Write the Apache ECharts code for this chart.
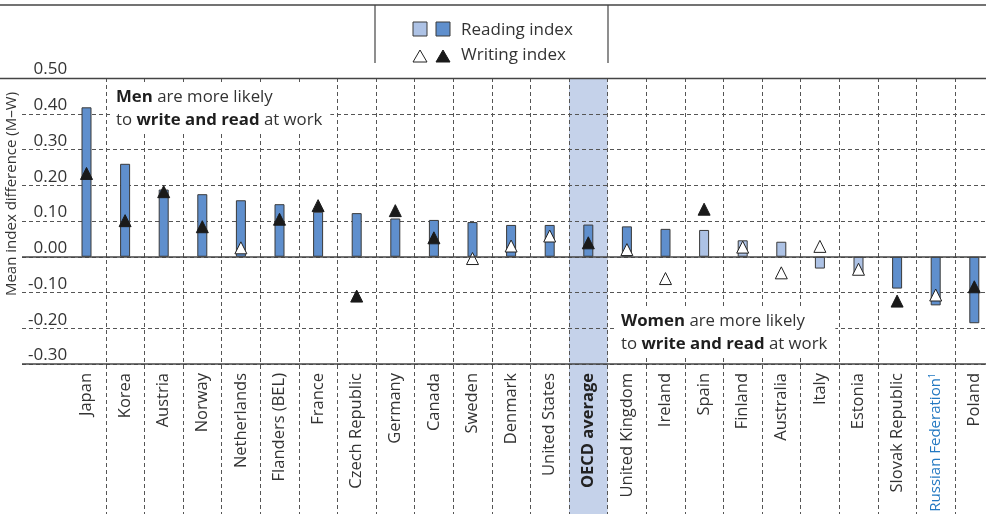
<!DOCTYPE html>
<html>
<head>
<meta charset="utf-8">
<script src="https://cdn.jsdelivr.net/npm/echarts@6/dist/echarts.min.js"></script>
<style>
  html, body { margin: 0; padding: 0; background: #fff; }
  #chart { width: 986px; height: 514px; }
</style>
</head>
<body>
<div id="chart"></div>
<script>
// Gender gap (men minus women) in reading and writing at work
const categories = [
  'Japan', 'Korea', 'Austria', 'Norway', 'Netherlands', 'Flanders (BEL)', 'France',
  'Czech Republic', 'Germany', 'Canada', 'Sweden', 'Denmark', 'United States',
  'OECD average', 'United Kingdom', 'Ireland', 'Spain', 'Finland', 'Australia',
  'Italy', 'Estonia', 'Slovak Republic', 'Russian Federation', 'Poland'
];
const readingIndex = [
  0.418, 0.260, 0.188, 0.175, 0.158, 0.147, 0.126,
  0.122, 0.107, 0.103, 0.097, 0.089, 0.089,
  0.090, 0.085, 0.078, 0.075, 0.046, 0.042,
  -0.033, -0.051, -0.089, -0.136, -0.186
];
const writingIndex = [
  0.233, 0.101, 0.182, 0.084, 0.025, 0.105, 0.143,
  -0.110, 0.129, 0.053, -0.005, 0.030, 0.058,
  0.039, 0.020, -0.061, 0.133, 0.027, -0.045,
  0.029, -0.035, -0.124, -0.107, -0.084
];
// 1 = difference is statistically significant (dark marks), 0 = not significant (light marks)
const readingSignificant = [1,1,1,1,1,1,1, 1,1,1,1,1,1, 1,1,1,0,0,0, 0,0,1,1,1];
const writingSignificant = [1,1,1,1,0,1,1, 1,1,1,0,0,0, 1,0,0,1,0,0, 0,0,1,0,1];
const highlighted = ['OECD average'];
const footnoted = ['Russian Federation'];
const yMin = -0.3, yMax = 0.5, yStep = 0.1;

const FONT = '"Open Sans", "Noto Sans", sans-serif';
const DARK_BLUE = '#5f8fcd';
const LIGHT_BLUE = '#adc2e5';
const BAND = '#c5d2ea';
const INK = '#333';
const CAT_SIZE = 16.5;

const W = 986;
const plot = { left: 67.2, right: -7.6, top: 78, bottom: 150 };
const ruleLeft = 22;

const pick = (vals, flags, want) => vals.map((v, i) => (flags[i] === want ? v : '-'));

const chart = echarts.init(document.getElementById('chart'), null, { renderer: 'canvas' });

const option = {
  animation: false,
  textStyle: { fontFamily: FONT },
  grid: [
    // bars
    { left: plot.left, right: plot.right, top: plot.top, bottom: plot.bottom, outerBoundsMode: 'none', containLabel: false },
    // horizontal rules
    { left: ruleLeft, right: 0, top: plot.top, bottom: plot.bottom, outerBoundsMode: 'none', containLabel: false },
    // column separators + highlight band
    { left: plot.left, right: plot.right, top: plot.top, bottom: 0, outerBoundsMode: 'none', containLabel: false }
  ],
  xAxis: [
    {
      gridIndex: 0, type: 'category', data: categories, boundaryGap: true,
      axisLine: { show: false }, axisTick: { show: false }, splitLine: { show: false },
      axisLabel: {
        interval: 0, rotate: 90, margin: 9, fontSize: CAT_SIZE, color: INK, fontFamily: FONT,
        formatter: (v) => highlighted.includes(v) ? '{b|' + v + '}'
          : footnoted.includes(v) ? '{r|' + v + '}{s|1}' : v,
        rich: {
          b: { fontWeight: 'bold', fontSize: CAT_SIZE, color: '#222', fontFamily: FONT },
          r: { fontSize: 15, color: '#2479c2', fontFamily: FONT },
          s: { fontSize: 9, color: '#2479c2', fontFamily: FONT, verticalAlign: 'top' }
        }
      }
    },
    { gridIndex: 1, type: 'value', min: 0, max: 1, show: false },
    {
      gridIndex: 2, type: 'category', data: categories, boundaryGap: true, z: 1,
      axisLine: { show: false }, axisTick: { show: false }, axisLabel: { show: false },
      splitLine: {
        show: true, interval: 0, showMinLine: false,
        lineStyle: { color: '#555', width: 1, type: [4, 3] }
      }
    }
  ],
  yAxis: [
    {
      gridIndex: 0, type: 'value', min: yMin, max: yMax, interval: yStep,
      axisLine: { show: false }, axisTick: { show: false }, splitLine: { show: false },
      axisLabel: {
        margin: 0, align: 'right', verticalAlign: 'bottom', fontSize: 17,
        color: INK, fontFamily: FONT, lineHeight: 17,
        formatter: (v) => v.toFixed(2)
      }
    },
    {
      gridIndex: 1, type: 'value', min: yMin, max: yMax, interval: yStep, z: 1,
      axisLine: { show: false }, axisTick: { show: false }, axisLabel: { show: false },
      splitLine: { show: true, lineStyle: { color: '#555', width: 1, type: [4, 3] } }
    },
    { gridIndex: 2, type: 'value', min: 0, max: 1, show: false }
  ],
  series: [
    {
      name: 'band', type: 'bar', xAxisIndex: 2, yAxisIndex: 2, z: 0, silent: true,
      barWidth: '100%',
      data: categories.map((c) => (highlighted.includes(c) ? 1 : '-')),
      itemStyle: { color: BAND }
    },
    {
      name: 'rules', type: 'line', xAxisIndex: 1, yAxisIndex: 1, data: [], silent: true,
      markLine: {
        silent: true, symbol: 'none', label: { show: false },
        lineStyle: { color: '#444', width: 1.5, type: 'solid' },
        data: [{ yAxis: 0 }, { yAxis: yMin }]
      }
    },
    {
      name: 'Reading index', type: 'bar', xAxisIndex: 0, yAxisIndex: 0, z: 2,
      barWidth: 10, barGap: '-100%',
      data: pick(readingIndex, readingSignificant, 1),
      itemStyle: { color: DARK_BLUE, borderColor: '#3a3a3a', borderWidth: 1 }
    },
    {
      name: 'Reading index (n.s.)', type: 'bar', xAxisIndex: 0, yAxisIndex: 0, z: 2,
      barWidth: 10, barGap: '-100%',
      data: pick(readingIndex, readingSignificant, 0),
      itemStyle: { color: LIGHT_BLUE, borderColor: '#3a3a3a', borderWidth: 1 }
    },
    {
      name: 'Writing index', type: 'scatter', xAxisIndex: 0, yAxisIndex: 0, z: 3,
      symbol: 'triangle', symbolSize: [12, 12],
      data: pick(writingIndex, writingSignificant, 1),
      itemStyle: { color: '#1a1a1a', borderColor: '#1a1a1a', borderWidth: 1, opacity: 1 }
    },
    {
      name: 'Writing index (n.s.)', type: 'scatter', xAxisIndex: 0, yAxisIndex: 0, z: 3,
      symbol: 'triangle', symbolSize: [12, 12],
      data: pick(writingIndex, writingSignificant, 0),
      itemStyle: { color: '#ffffff', borderColor: '#222', borderWidth: 1, opacity: 1 }
    }
  ],
  graphic: [
    // frame rules
    { type: 'line', z: 10, shape: { x1: 0, y1: 5, x2: W, y2: 5 }, style: { stroke: '#444', lineWidth: 1.5 } },
    { type: 'line', z: 10, shape: { x1: 0, y1: plot.top + 0.5, x2: W, y2: plot.top + 0.5 }, style: { stroke: '#444', lineWidth: 1.5 } },
    { type: 'line', z: 10, shape: { x1: 375, y1: 5, x2: 375, y2: 63 }, style: { stroke: '#444', lineWidth: 1.2 } },
    { type: 'line', z: 10, shape: { x1: 608, y1: 5, x2: 608, y2: 63 }, style: { stroke: '#444', lineWidth: 1.2 } },
    // legend
    { type: 'rect', z: 10, shape: { x: 413, y: 22, width: 14, height: 14 }, style: { fill: LIGHT_BLUE, stroke: '#3a3a3a', lineWidth: 1 } },
    { type: 'rect', z: 10, shape: { x: 436, y: 22, width: 14, height: 14 }, style: { fill: DARK_BLUE, stroke: '#3a3a3a', lineWidth: 1 } },
    { type: 'text', z: 10, x: 461, y: 30, style: { text: 'Reading index', font: '17px ' + FONT, fill: INK, verticalAlign: 'middle' } },
    { type: 'polygon', z: 10, shape: { points: [[420, 50], [427, 62], [413, 62]] }, style: { fill: '#fff', stroke: '#222', lineWidth: 1 } },
    { type: 'polygon', z: 10, shape: { points: [[443, 50], [450, 62], [436, 62]] }, style: { fill: '#1a1a1a', stroke: '#1a1a1a', lineWidth: 1 } },
    { type: 'text', z: 10, x: 461, y: 55, style: { text: 'Writing index', font: '17px ' + FONT, fill: INK, verticalAlign: 'middle' } },
    // axis title
    {
      type: 'text', z: 10, x: 12, y: 194, rotation: Math.PI / 2,
      style: { text: 'Mean index difference (M–W)', font: '15px ' + FONT, fill: INK, align: 'center', verticalAlign: 'middle' }
    },
    // annotations
    {
      type: 'text', z: 10, x: 111, y: 85,
      style: {
        text: '{b|Men} are more likely\nto {b|write and read} at work',
        font: '16.8px ' + FONT, fill: INK, lineHeight: 23,
        backgroundColor: '#fff', padding: [1, 8, 1, 5],
        rich: { b: { fontWeight: 'bold', fontSize: 16.8, fontFamily: FONT, fill: '#1e1e1e', lineHeight: 23 } }
      }
    },
    {
      type: 'text', z: 10, x: 616, y: 309,
      style: {
        text: '{b|Women} are more likely\nto {b|write and read} at work',
        font: '16.8px ' + FONT, fill: INK, lineHeight: 23,
        backgroundColor: '#fff', padding: [1, 8, 1, 5],
        rich: { b: { fontWeight: 'bold', fontSize: 16.8, fontFamily: FONT, fill: '#1e1e1e', lineHeight: 23 } }
      }
    }
  ]
};

chart.setOption(option);
</script>
</body>
</html>
